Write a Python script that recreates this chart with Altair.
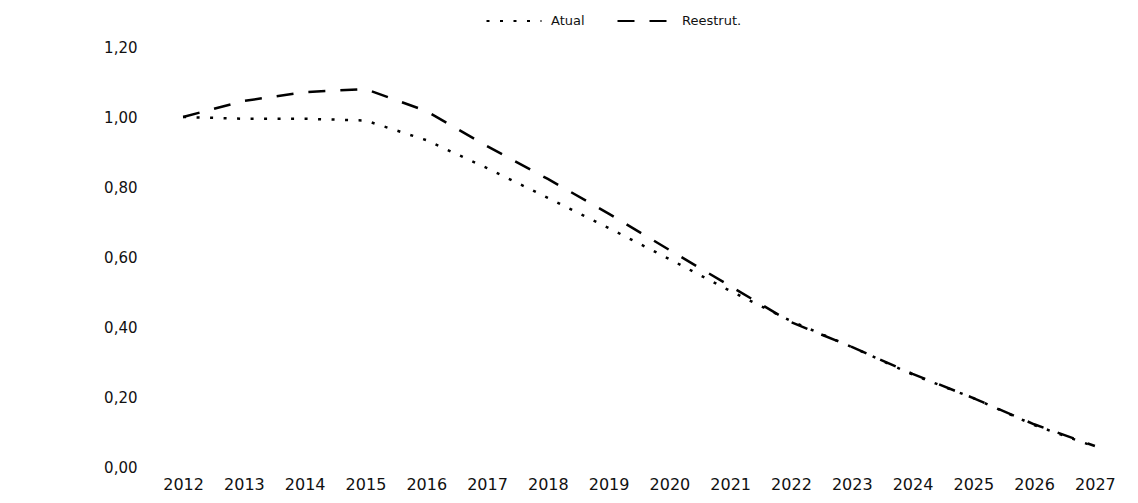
import altair as alt
import pandas as pd

years = ["2012", "2013", "2014", "2015", "2016", "2017", "2018", "2019",
         "2020", "2021", "2022", "2023", "2024", "2025", "2026", "2027"]
atual = [1.00, 0.995, 0.995, 0.99, 0.934, 0.854, 0.769, 0.683,
         0.594, 0.503, 0.417, 0.343, 0.264, 0.197, 0.120, 0.058]
reestrut = [1.00, 1.046, 1.071, 1.080, 1.017, 0.917, 0.823, 0.724,
            0.620, 0.517, 0.414, 0.343, 0.266, 0.197, 0.122, 0.060]
series_names = ["Atual", "Reestrut."]
y_ticks = [0.0, 0.2, 0.4, 0.6, 0.8, 1.0, 1.2]

rows = []
for name, vals in zip(series_names, [atual, reestrut]):
    for yr, v in zip(years, vals):
        rows.append({"ano": yr, "valor": v, "serie": name})
df = pd.DataFrame(rows)

chart = alt.Chart(df).mark_line(color="black", strokeWidth=2.5).encode(
    x=alt.X("ano:O", sort=years,
            scale=alt.Scale(type="point", padding=0.38),
            axis=alt.Axis(title=None, labelAngle=0, domain=False, ticks=False,
                          labelPadding=9, labelFont="DejaVu Sans", labelFontSize=16,
                          labelColor="#111")),
    y=alt.Y("valor:Q", scale=alt.Scale(domain=[0, 1.2]),
            axis=alt.Axis(title=None, values=y_ticks, grid=False, domain=False, ticks=False,
                          labelExpr="replace(format(datum.value, '.2f'), '.', ',')",
                          labelPadding=23, labelFont="DejaVu Sans", labelFontSize=15,
                          labelColor="#111")),
    strokeDash=alt.StrokeDash("serie:N",
                              scale=alt.Scale(domain=series_names, range=[[3, 10.5], [17, 15]]),
                              legend=alt.Legend(title=None, orient="none", direction="horizontal",
                                                legendX=325, legendY=-55, padding=0,
                                                symbolType="stroke", symbolSize=3025,
                                                symbolStrokeColor="black", symbolStrokeWidth=2.2,
                                                labelFont="DejaVu Sans", labelFontSize=13,
                                                labelColor="#111", labelOffset=8,
                                                columnPadding=28)),
).properties(
    width=958, height=420,
    padding={"left": 152, "top": 39, "right": 12, "bottom": 28},
    autosize="none",
    background="white",
).configure_view(stroke=None)

chart.save("out.html", embed_options={"renderer": "svg", "actions": False})
